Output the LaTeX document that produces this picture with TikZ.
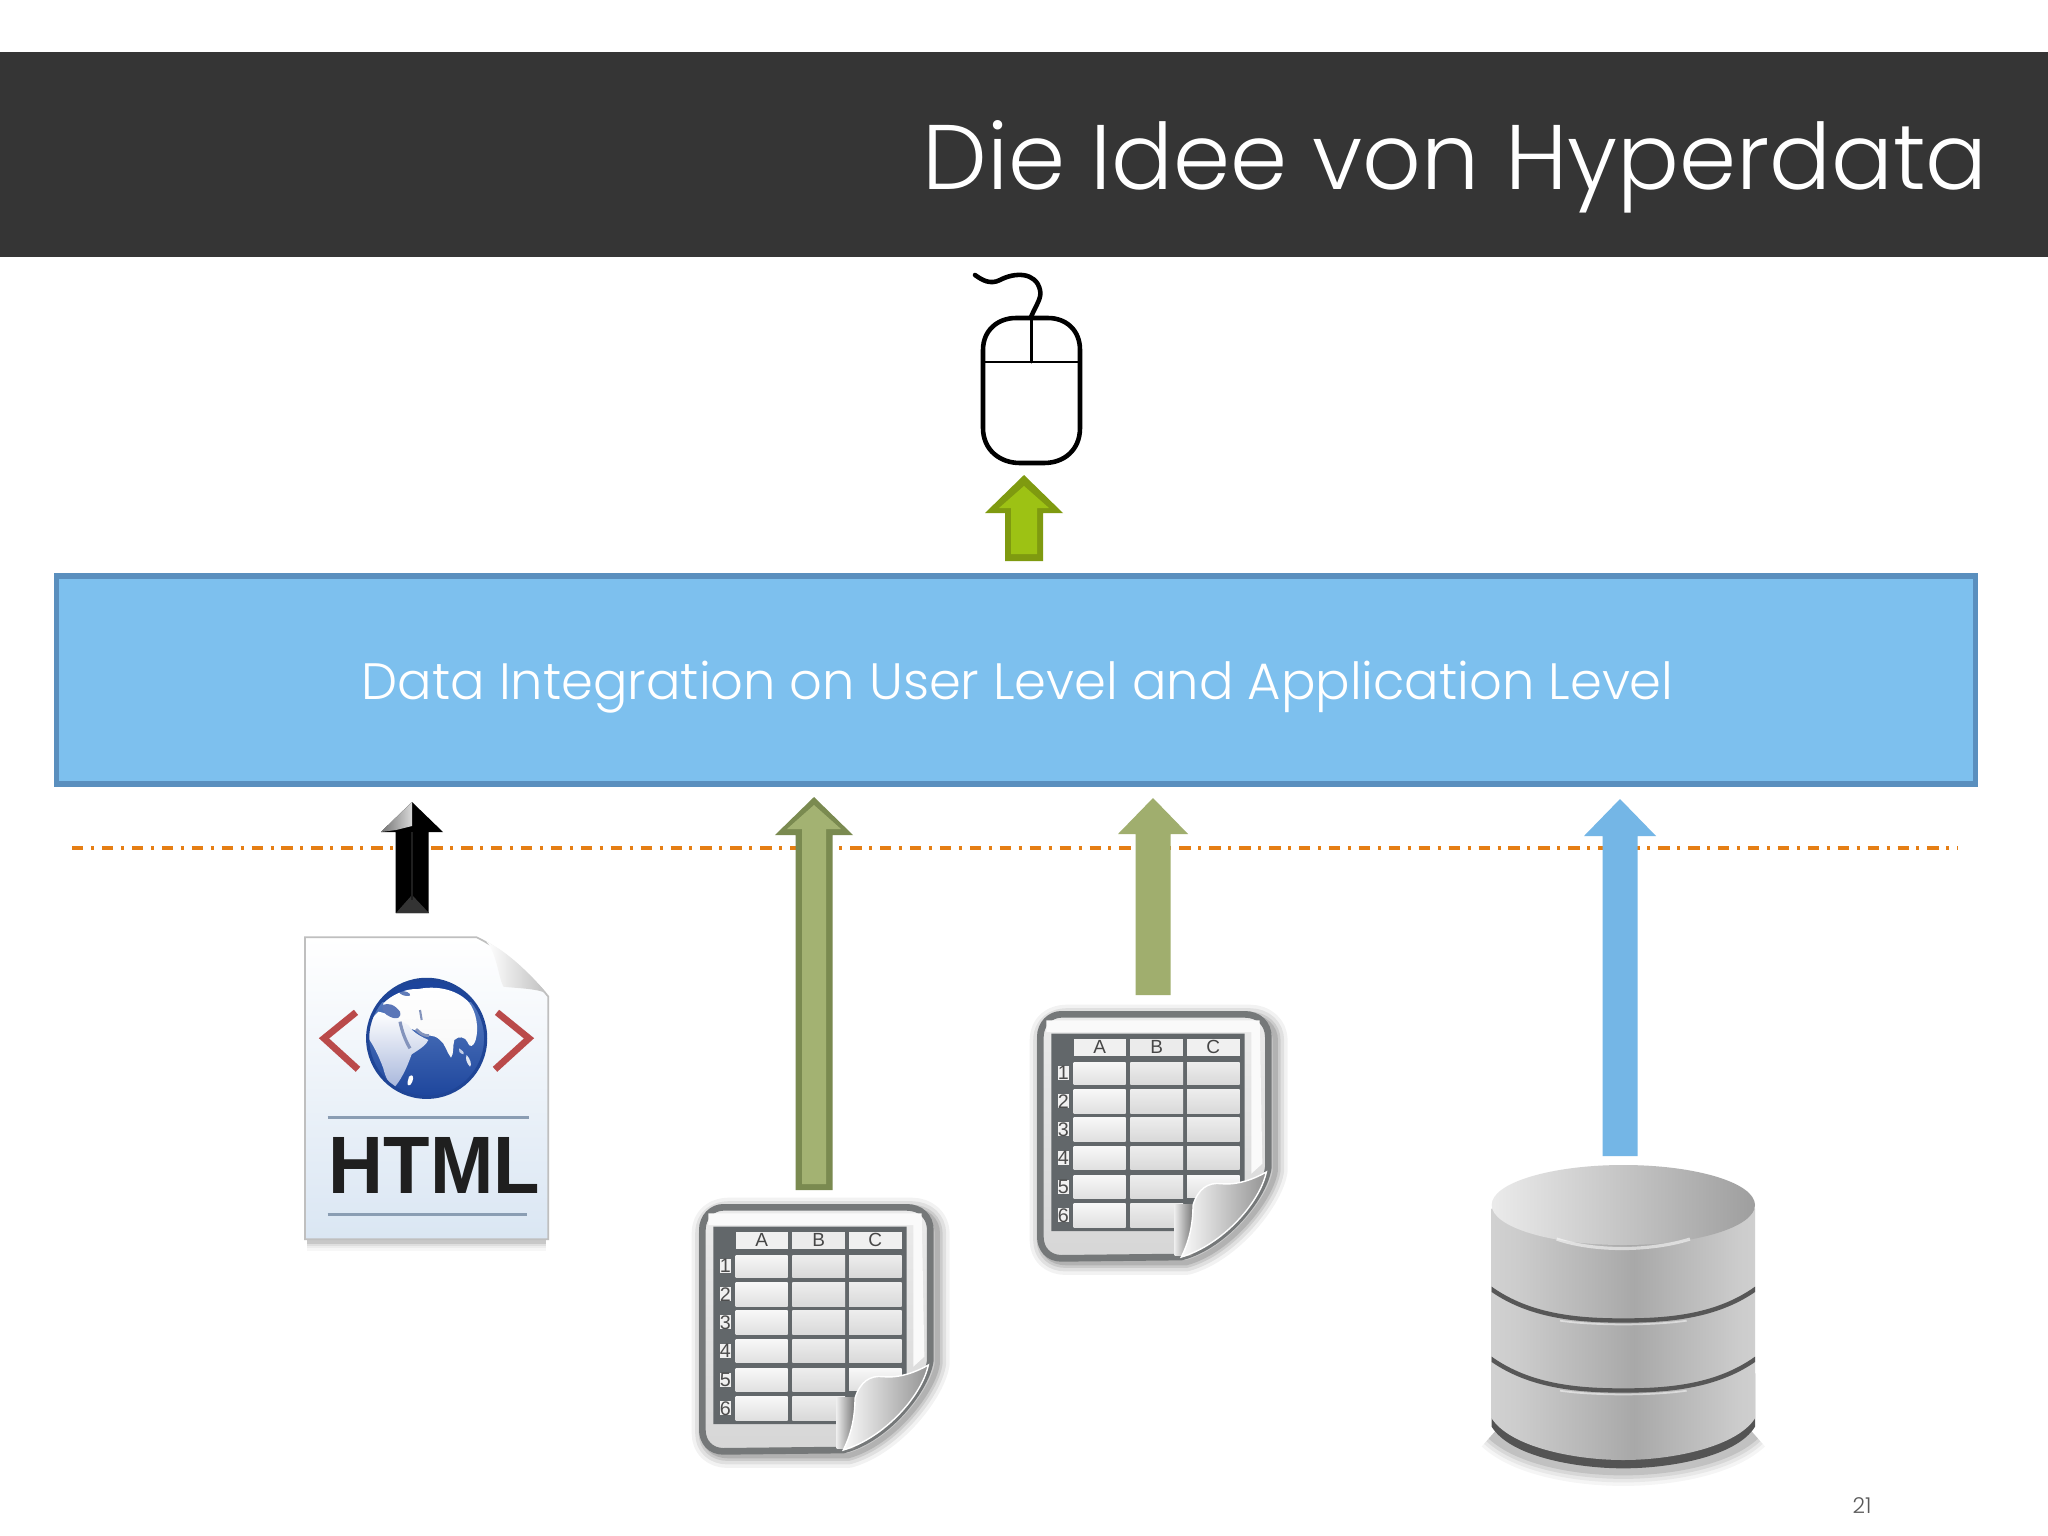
\documentclass[tikz,border=0pt]{standalone}
\usepackage{fontspec}
\usetikzlibrary{shapes.geometric}
\setmainfont{Liberation Sans}
\newfontfamily\lightfont{Poppins}[UprightFont=* Light]
\newfontfamily\cellfont{Liberation Sans}
\definecolor{band}{HTML}{353535}
\definecolor{layerfill}{HTML}{7DC0EE}
\definecolor{layeredge}{HTML}{5A8FBE}
\definecolor{dashorange}{HTML}{E57E14}
\definecolor{sheetedge}{HTML}{757879}
\definecolor{gridline}{HTML}{62676A}
\definecolor{limeedge}{HTML}{7F9A10}
\definecolor{limefill}{HTML}{9DC214}
\definecolor{oliveedge}{HTML}{7A8A50}
\definecolor{olivefill}{HTML}{A3B272}
\definecolor{oliveplain}{HTML}{A0AE6E}
\definecolor{bluearrow}{HTML}{74B6E6}
\definecolor{pagebot}{HTML}{DAE6F3}
\definecolor{globerim}{HTML}{1F4596}
\definecolor{oceantop}{HTML}{5F84C6}
\definecolor{oceanbot}{HTML}{1D459C}
\definecolor{africabot}{HTML}{A9B8DC}
\definecolor{medsea}{HTML}{5B76B8}
\definecolor{seamark}{HTML}{8494BC}
\definecolor{chevred}{HTML}{BA4A4A}
\definecolor{rulegrey}{HTML}{8A9DB3}
\pgfdeclarehorizontalshading{cylbody}{100bp}{rgb(0bp)=(.78,.78,.78); rgb(12bp)=(.87,.87,.87); rgb(30bp)=(.80,.80,.80); rgb(52bp)=(.66,.66,.66); rgb(72bp)=(.80,.80,.80); rgb(90bp)=(.87,.87,.87); rgb(100bp)=(.72,.72,.72)}
\tikzset{
  x=0.01cm,y=-0.01cm,
  cellboxA/.style={top color=black!3,bottom color=black!12,draw=none},
  cellboxB/.style={top color=black!7,bottom color=black!15,draw=none},
  cellhead/.style={font=\cellfont\fontsize{5.4}{6}\selectfont,text=black!72,inner sep=0pt},
  rownum/.style={font=\cellfont\fontsize{5.6}{6}\selectfont,text=black!70,inner sep=0pt,fill=black!6,minimum width=0.1cm},
  chevron/.style={line width=1.9pt,draw=chevred,line join=miter},
  htmlrule/.style={draw=rulegrey,line width=0.9pt},
}
% #1 tip x, #2 tip y, #3 head half width, #4 shaft half width, #5 head base y, #6 bottom y
\newcommand{\upblock}[6]{(#1,#2) -- ({#1+#3},#5) -- ({#1+#4},#5) -- ({#1+#4},#6) -- ({#1-#4},#6) -- ({#1-#4},#5) -- ({#1-#3},#5) -- cycle}
\newcommand{\sheeticon}[2]{%
\begin{scope}[shift={(#1,#2)},xscale=1/3,yscale=1/3]
  % soft shadow
  \foreach \w/\o in {7/0.05,5/0.07,3/0.09,1.5/0.12}{
    \draw[black,line width=\w pt,opacity=\o,line join=round]
      (72,130) .. controls (72,80) and (110,60) .. (145,60) -- (695,60) .. controls (740,60) and (772,90) .. (772,130) -- (772,520) .. controls (762,600) and (640,760) .. (505,797) -- (145,797) .. controls (100,797) and (72,770) .. (72,730) -- cycle;
  }
  % sheet
  \path[draw=sheetedge,line width=1.9pt,top color=black!8,bottom color=black!16,line join=round]
    (67,120) .. controls (67,80) and (97,52) .. (130,52) -- (680,52) .. controls (722,52) and (751,80) .. (751,120) -- (751,510) .. controls (743,590) and (626,745) .. (490,780) -- (130,784) .. controls (92,784) and (67,756) .. (67,720) -- cycle;
  \fill[black!2] (85,70) -- (725,70) -- (733,500) -- (700,530) -- (700,105) -- (85,105) -- cycle;
  % table
  \fill[gridline] (100,110) -- (680,110) -- (680,560) -- (525,620) -- (525,702) -- (100,702) -- cycle;
  \foreach \xa/\xb/\c/\n in {167/323/6/A,337/495/8/B,507/665/6/C}{
    \fill[black!\c] (\xa,125) rectangle (\xb,178);
    \node[cellhead] at ({(\xa+\xb)/2},150) {\n};
  }
  \foreach \ya/\yb/\n in {195/262/1,278/348/2,362/432/3,448/518/4,535/605/5,620/690/6}{
    \node[rownum,minimum height=0.13cm] at (136,{(\ya+\yb)/2}) {\n};
    \path[cellboxA] (167,\ya) rectangle (323,\yb);
    \path[cellboxB] (337,\ya) rectangle (495,\yb);
  }
  \foreach \ya/\yb in {195/262,278/348,362/432,448/518}{
    \path[cellboxB] (507,\ya) rectangle (665,\yb);
  }
  \path[cellboxA] (507,535) rectangle (665,600);
  % shadow beside the fold
  \shade[left color=black!8,right color=black!55] (470,622) rectangle (527,776);
  % fold
  \path[left color=black!2,right color=black!42,draw=white,line width=0.4pt]
    (525,625) .. controls (540,575) and (570,555) .. (610,560) .. controls (660,565) and (710,545) .. (745,525) .. controls (725,620) and (610,745) .. (490,780) .. controls (510,740) and (525,690) .. (525,625) -- cycle;
\end{scope}}
\begin{document}
\begin{tikzpicture}
\useasboundingbox (0,0) rectangle (2048,1536);
\fill[white] (0,0) rectangle (2048,1536);
% header band
\fill[band] (0,52) rectangle (2048,257);
\node[anchor=base west,inner sep=0pt,text=white] (title) at (922,189)
  {\resizebox{10.645cm}{!}{\lightfont Die Idee von Hyperdata}};
% mouse
\begin{scope}[line cap=round,line join=round,draw=black]
  \draw[line width=1.3pt] (983,350) .. controls (983,330) and (998,318) .. (1016,318) -- (1048,318) .. controls (1066,318) and (1080,330) .. (1080,350) -- (1080,428) .. controls (1080,450) and (1064,463) .. (1044,463) -- (1020,463) .. controls (1000,463) and (983,450) .. (983,428) -- cycle;
  \draw[line width=0.75pt] (984,362) -- (1079,362);
  \draw[line width=0.85pt] (1031,318) -- (1031,362);
  \draw[line width=1.3pt] (1031,317) .. controls (1036,305) and (1042,298) .. (1040,290) .. controls (1036,272) and (1015,272) .. (1000,280) .. controls (990,285) and (982,280) .. (975,275);
\end{scope}
% arrow to the mouse
\fill[limeedge] \upblock{1024}{475}{39}{19}{513}{561};
\fill[limefill] \upblock{1024}{486}{25}{13}{508}{554};
% integration layer
\node[draw=layeredge,fill=layerfill,line width=1.5pt,minimum width=19.18cm,minimum height=2.08cm,inner sep=0pt] (layer) at (1016,680) {};
\node[anchor=base west,inner sep=0pt,text=white] (layertext) at (361,699)
  {\resizebox{13.11cm}{!}{\lightfont Data Integration on User Level and Application Level}};
% separator
\coordinate (sepL) at (72,848);
\coordinate (sepR) at (1958,848);
\draw[dashorange,line width=0.95pt,dash pattern=on 3.26pt off 2.13pt on 0.85pt off 2.27pt] (sepL) -- (sepR);
% black arrow
\fill[black] \upblock{412}{802}{31}{16.5}{832}{913};
\shade[left color=black!55,right color=black!15] (381,832) -- (412,802) -- (412,826) -- (396,830) -- cycle;
\fill[black!80] (396,913) -- (412,895) -- (429,913) -- cycle;
\fill[black!88] (411,832) rectangle (413,900);
% olive arrow with border
\fill[oliveedge] \upblock{814}{797}{39}{18.5}{835}{1190};
\fill[olivefill] \upblock{814}{805}{27}{12}{829}{1184};
% olive arrow plain
\fill[oliveplain] \upblock{1153}{798}{35}{17.5}{834}{995};
% blue arrow
\fill[bluearrow] \upblock{1620}{799}{36}{17.5}{836}{1156};
% html document
\begin{scope}[shift={(280,780)},xscale=1/3,yscale=1/3]
  \foreach \w/\o in {5/0.03,3.5/0.04,2/0.06,1/0.1}{
    \draw[black,line width=\w pt,opacity=\o] (82,1386) -- (798,1386);
  }
  \path[top color=white,bottom color=pagebot,draw=black!25,line width=0.5pt]
    (75,472) -- (590,472) .. controls (650,500) and (740,570) .. (805,650) -- (805,1378) -- (75,1378) -- cycle;
  \path[left color=white,right color=black!25] (620,485) .. controls (650,520) and (655,590) .. (670,620) .. controls (710,625) and (770,625) .. (800,640) .. controls (740,570) and (680,515) .. (620,485) -- cycle;
  \draw[chevron] (228,697) -- (132,775) -- (234,868);
  \draw[chevron] (651,697) -- (747,775) -- (645,868);
  \draw[htmlrule] (143,1012) -- (748,1012);
  \draw[htmlrule] (143,1304) -- (742,1304);
\end{scope}
% globe
\begin{scope}[shift={(355,965)},xscale=1/3,yscale=1/3]
  \coordinate (gc) at (215,220);
  \begin{scope}
    \clip (gc) circle [radius=178];
    \shade[top color=oceantop,bottom color=oceanbot] (37,42) rectangle (393,398);
    \fill[oceanbot] (37,42) rectangle (393,110);
    % Eurasia
    \path[top color=white,bottom color=black!3]
      (85,115) .. controls (110,90) and (150,70) .. (190,72) .. controls (240,62) and (300,70) .. (340,110) .. controls (365,140) and (372,190) .. (362,225) .. controls (355,245) and (345,250) .. (338,232) .. controls (332,215) and (310,212) .. (298,225) .. controls (292,245) and (298,265) .. (288,278) .. controls (275,262) and (270,235) .. (255,225) .. controls (235,205) and (215,215) .. (205,210) .. controls (195,195) and (150,190) .. (120,170) .. controls (100,150) and (80,135) .. (85,115) -- cycle;
    % Africa
    \shade[top color=white,bottom color=africabot]
      (70,140) .. controls (50,160) and (28,185) .. (37,215) .. controls (55,240) and (70,270) .. (85,310) .. controls (90,335) and (105,365) .. (120,365) .. controls (145,335) and (160,295) .. (170,268) .. controls (190,255) and (215,240) .. (220,225) .. controls (200,215) and (175,205) .. (160,180) .. controls (130,165) and (100,145) .. (70,140) -- cycle;
    % Mediterranean, gulfs and islands
    \fill[medsea] (82,122) .. controls (100,110) and (120,120) .. (135,140) .. controls (140,160) and (125,165) .. (105,155) .. controls (90,150) and (80,135) .. (82,122) -- cycle;
    \draw[seamark,line width=0.9pt] (135,170) .. controls (140,195) and (150,225) .. (165,250);
    \draw[seamark,line width=0.8pt] (183,192) .. controls (195,205) and (205,212) .. (222,212);
    \draw[seamark,line width=0.6pt] (195,135) -- (200,165);
    \fill[white] (162,335) .. controls (172,325) and (178,335) .. (172,350) .. controls (166,365) and (155,365) .. (158,350) -- cycle;
    \fill[white,opacity=0.85] (335,270) .. controls (345,280) and (352,300) .. (345,305) .. controls (335,295) and (330,280) .. (335,270) -- cycle;
    \fill[white,opacity=0.7] (312,250) .. controls (320,255) and (330,262) .. (325,268) .. controls (315,265) and (308,258) .. (312,250) -- cycle;
    \fill[oceanbot,opacity=0.7] (130,78) .. controls (150,75) and (170,85) .. (165,92) .. controls (150,95) and (135,90) .. (130,78) -- cycle;
  \end{scope}
  \draw[globerim,line width=0.9pt] (gc) circle [radius=177];
\end{scope}
\node[anchor=base west,inner sep=0pt,text=black!88] (htmltext) at (328,1193)
  {\resizebox{2.11cm}{0.56cm}{\bfseries HTML}};
% spreadsheets
\sheeticon{680}{1190}
\sheeticon{1018}{997}
% database
\begin{scope}[shift={(1460,1140)},xscale=1/3,yscale=1/3]
  \foreach \w/\o in {10/0.04,8/0.05,6/0.07,4/0.1}{
    \draw[black,line width=\w pt,opacity=\o] (100,880) .. controls (180,955) and (350,985) .. (490,985) .. controls (630,985) and (800,955) .. (880,880);
  }
  \fill[black!67] (95,860) .. controls (150,950) and (350,985) .. (490,985) .. controls (630,985) and (830,950) .. (885,860) -- (885,700) -- (95,700) -- cycle;
  \shade[shading=cylbody]
    (95,205) -- (885,205) -- (885,835) .. controls (830,920) and (640,960) .. (490,960) .. controls (340,960) and (150,920) .. (95,835) -- cycle;
  \shade[left color=black!8,right color=black!38] (490,195) ellipse [x radius=395,y radius=120];
  \draw[white,opacity=0.55,line width=0.9pt] (290,297) .. controls (400,335) and (570,335) .. (690,297);
  \foreach \s/\b in {440/540,650/750}{
    \fill[black!66] (95,\s) .. controls (210,{\b-18}) and (350,{\b-5}) .. (490,{\b-5}) .. controls (630,{\b-5}) and (770,{\b-18}) .. (885,\s) -- (885,{\s+16}) .. controls (770,{\b-5}) and (630,{\b+8}) .. (490,{\b+8}) .. controls (350,{\b+8}) and (210,{\b-5}) .. (95,{\s+16}) -- cycle;
    \draw[white,opacity=0.5,line width=0.5pt] (300,{\b+2}) .. controls (400,{\b+17}) and (580,{\b+17}) .. (680,{\b+2});
  }
\end{scope}
% page number
\node[inner sep=0pt,text=black!65] (pagenum) at (1862,1506) {\lightfont\fontsize{6.2}{7}\selectfont 21};
\end{tikzpicture}
\end{document}
